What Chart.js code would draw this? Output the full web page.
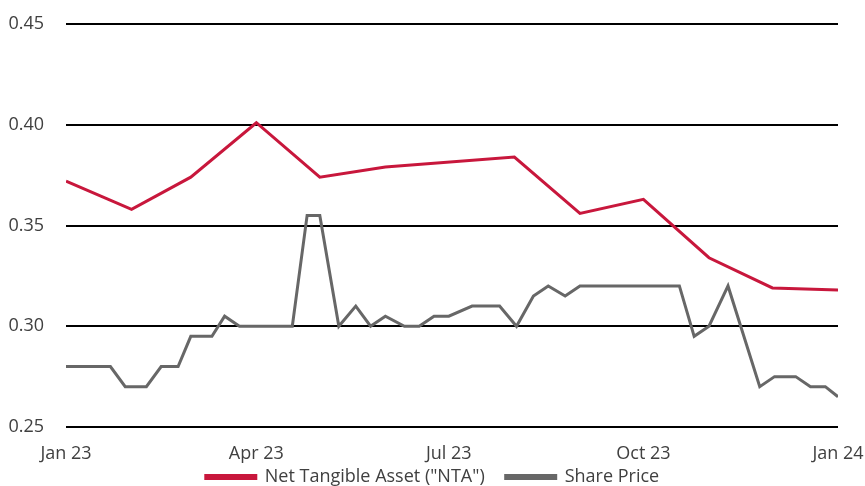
<!DOCTYPE html>
<html>
<head>
<meta charset="utf-8">
<script src="https://cdn.jsdelivr.net/npm/chart.js@4.4.1/dist/chart.umd.min.js"></script>
<style>
  html, body { margin: 0; padding: 0; background: #fff; }
  #wrap { width: 865px; height: 486px; }
</style>
</head>
<body>
<div id="wrap"><canvas id="navChart"></canvas></div>
<script>
// ========== DATA ==========

const ntaDates = ['2023-01-01', '2023-02-01', '2023-03-01', '2023-04-01', '2023-05-01', '2023-06-01',
    '2023-08-01', '2023-09-01', '2023-10-01', '2023-11-01', '2023-12-01', '2024-01-01'];
const ntaValues = [0.372, 0.358, 0.374, 0.401, 0.374, 0.379, 0.384, 0.356, 0.363, 0.334, 0.319, 0.318];

const priceDates = ['2023-01-01', '2023-01-22', '2023-01-29', '2023-02-08', '2023-02-15', '2023-02-23',
    '2023-03-01', '2023-03-11', '2023-03-17', '2023-03-24', '2023-04-18', '2023-04-25',
    '2023-05-01', '2023-05-10', '2023-05-18', '2023-05-25', '2023-06-01', '2023-06-10',
    '2023-06-17', '2023-06-24', '2023-07-01', '2023-07-12', '2023-07-25', '2023-08-02',
    '2023-08-10', '2023-08-17', '2023-08-25', '2023-09-01', '2023-10-18', '2023-10-25',
    '2023-11-01', '2023-11-10', '2023-11-25', '2023-12-02', '2023-12-12', '2023-12-19',
    '2023-12-26', '2024-01-01'];
const priceValues = [0.28, 0.28, 0.27, 0.27, 0.28, 0.28,
    0.295, 0.295, 0.305, 0.30, 0.30, 0.355,
    0.355, 0.30, 0.31, 0.30, 0.305, 0.30,
    0.30, 0.305, 0.305, 0.31, 0.31, 0.30,
    0.315, 0.32, 0.315, 0.32, 0.32, 0.295,
    0.30, 0.32, 0.27, 0.275, 0.275, 0.27,
    0.27, 0.265];

const xTickDates = ['2023-01-01', '2023-04-01', '2023-07-01', '2023-10-01', '2024-01-01'];
const xTickLabels = ['Jan 23', 'Apr 23', 'Jul 23', 'Oct 23', 'Jan 24'];

// ========== HELPERS ==========

const START = Date.UTC(2023, 0, 1);
function toDay(str) {
    const [y, m, d] = str.split('-').map(Number);
    return Math.round((Date.UTC(y, m - 1, d) - START) / 86400000);
}

function toPoints(dates, values) {
    return dates.map((d, i) => ({ x: toDay(d), y: values[i] }));
}

const xTickDays = xTickDates.map(toDay);

// legend: short box, and a white band behind the items that sits over the tick labels
const legendFix = {
    id: 'legendFix',
    beforeLayout(chart) {
        const lg = chart.legend;
        if (!lg || lg._fixed) return;
        const fit = lg.fit.bind(lg);
        const draw = lg.draw.bind(lg);
        lg.fit = function () {
            fit();
            this.height = 39;
        };
        lg.draw = function () {
            const boxes = this.legendHitBoxes || [];
            if (boxes.length) {
                const left = Math.min(...boxes.map(b => b.left)) - 6;
                const right = Math.max(...boxes.map(b => b.left + b.width)) + 6;
                const ctx = this.ctx;
                ctx.save();
                ctx.fillStyle = '#ffffff';
                ctx.fillRect(left, this.top + 12, right - left, this.bottom - this.top);
                ctx.restore();
            }
            draw();
        };
        lg._fixed = true;
    }
};

// ========== CHART ==========

Chart.defaults.font.family = "'Open Sans', sans-serif";
Chart.defaults.color = '#404040';

new Chart(document.getElementById('navChart').getContext('2d'), {
    type: 'line',
    data: {
        datasets: [{
            label: 'Net Tangible Asset ("NTA")',
            data: toPoints(ntaDates, ntaValues),
            borderColor: '#c8173c',
            backgroundColor: '#c8173c',
            borderWidth: 3,
            pointRadius: 0,
            tension: 0
        }, {
            label: 'Share Price',
            data: toPoints(priceDates, priceValues),
            borderColor: '#676767',
            backgroundColor: '#676767',
            borderWidth: 3,
            pointRadius: 0,
            tension: 0
        }]
    },
    plugins: [legendFix],
    options: {
        responsive: true,
        maintainAspectRatio: false,
        animation: false,
        layout: { padding: { left: 0, right: 0, top: 24, bottom: 0 } },
        plugins: {
            tooltip: { enabled: false },
            legend: {
                position: 'bottom',
                labels: {
                    boxWidth: 50,
                    boxHeight: 3,
                    padding: 21,
                    color: '#404040',
                    font: { size: 18 }
                }
            }
        },
        scales: {
            x: {
                type: 'linear',
                min: 0,
                max: 365,
                afterBuildTicks: (scale) => {
                    scale.ticks = xTickDays.map(v => ({ value: v }));
                },
                afterFit: (scale) => {
                    scale.height = 20;
                    scale.paddingLeft = 0;
                    scale.paddingRight = 27;
                    // labels hang below the short axis box, so don't clip them to it
                    scale._computeLabelArea = () => undefined;
                },
                ticks: {
                    autoSkip: false,
                    maxRotation: 0,
                    padding: 16,
                    color: '#404040',
                    font: { size: 18 },
                    callback: (value) => {
                        const i = xTickDays.indexOf(value);
                        return i >= 0 ? xTickLabels[i] : '';
                    }
                },
                grid: { display: false, drawTicks: false },
                border: { display: false }
            },
            y: {
                min: 0.25,
                max: 0.45,
                afterFit: (scale) => {
                    scale.width = 66;
                    scale.paddingTop = 0;
                    scale.paddingBottom = 0;
                },
                ticks: {
                    stepSize: 0.05,
                    padding: 22,
                    color: '#404040',
                    font: { size: 18 },
                    callback: (v) => v.toFixed(2)
                },
                grid: { color: '#000000', lineWidth: 2, drawTicks: false },
                border: { display: false }
            }
        }
    }
});
</script>
</body>
</html>
